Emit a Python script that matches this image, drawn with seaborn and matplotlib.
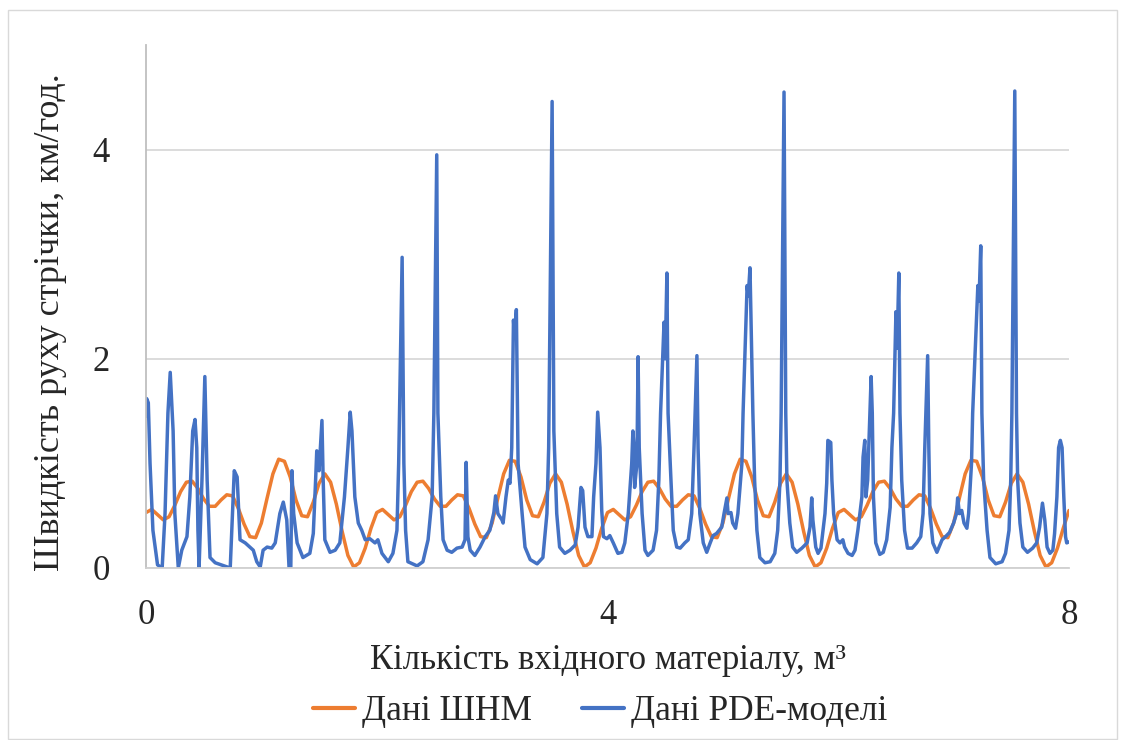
import numpy as np
import pandas as pd
import matplotlib
matplotlib.use("Agg")
import matplotlib.pyplot as plt
import seaborn as sns
from matplotlib.patches import Rectangle

# ---------------- data ----------------
# Neural-network (ШНМ) output, sampled every 0.05 m³ from 0 to 8
shnm_x = np.round(np.arange(161) * 0.05, 2)
shnm_y = [
    0.53, 0.56, 0.51, 0.46, 0.49, 0.60, 0.73, 0.82, 0.83, 0.76,
    0.66, 0.59, 0.59, 0.65, 0.70, 0.69, 0.57, 0.42, 0.30, 0.29,
    0.43, 0.67, 0.90, 1.04, 1.02, 0.87, 0.65, 0.50, 0.49, 0.63,
    0.81, 0.90, 0.82, 0.61, 0.35, 0.12, 0.01, 0.05, 0.19, 0.38,
    0.53, 0.56, 0.51, 0.46, 0.49, 0.60, 0.73, 0.82, 0.83, 0.76,
    0.66, 0.59, 0.59, 0.65, 0.70, 0.69, 0.57, 0.42, 0.30, 0.29,
    0.43, 0.67, 0.90, 1.03, 1.02, 0.87, 0.65, 0.50, 0.49, 0.63,
    0.81, 0.90, 0.82, 0.61, 0.35, 0.12, 0.01, 0.05, 0.19, 0.38,
    0.53, 0.56, 0.51, 0.46, 0.49, 0.60, 0.73, 0.82, 0.83, 0.76,
    0.66, 0.59, 0.59, 0.65, 0.70, 0.69, 0.57, 0.42, 0.30, 0.29,
    0.43, 0.67, 0.90, 1.04, 1.02, 0.87, 0.65, 0.50, 0.49, 0.63,
    0.81, 0.90, 0.82, 0.61, 0.35, 0.12, 0.01, 0.05, 0.19, 0.38,
    0.53, 0.56, 0.51, 0.46, 0.49, 0.60, 0.73, 0.82, 0.83, 0.76,
    0.66, 0.59, 0.59, 0.65, 0.70, 0.69, 0.57, 0.42, 0.30, 0.29,
    0.43, 0.67, 0.90, 1.03, 1.02, 0.87, 0.65, 0.50, 0.49, 0.63,
    0.81, 0.90, 0.82, 0.61, 0.35, 0.12, 0.01, 0.05, 0.19, 0.38,
    0.55,
]

# PDE model output
pde_x = [
    0.000, 0.005, 0.020, 0.035, 0.060, 0.100, 0.140, 0.165, 0.190, 0.210,
    0.235, 0.250, 0.280, 0.310, 0.355, 0.380, 0.405, 0.425, 0.440, 0.450,
    0.460, 0.485, 0.510, 0.530, 0.555, 0.600, 0.730, 0.765, 0.790, 0.815,
    0.860, 0.900, 0.930, 0.960, 0.990, 1.015, 1.050, 1.090, 1.120, 1.160,
    1.190, 1.220, 1.240, 1.255, 1.265, 1.280, 1.310, 1.360, 1.420, 1.450,
    1.470, 1.480, 1.500, 1.525, 1.535, 1.550, 1.595, 1.640, 1.680, 1.720,
    1.750, 1.770, 1.785, 1.810, 1.840, 1.870, 1.900, 1.940, 1.985, 2.010,
    2.045, 2.100, 2.140, 2.175, 2.190, 2.220, 2.235, 2.250, 2.270, 2.350,
    2.400, 2.445, 2.480, 2.495, 2.520, 2.530, 2.555, 2.575, 2.610, 2.650,
    2.695, 2.740, 2.765, 2.775, 2.790, 2.810, 2.850, 2.895, 2.940, 2.980,
    3.015, 3.030, 3.050, 3.085, 3.095, 3.120, 3.140, 3.155, 3.170, 3.185,
    3.195, 3.210, 3.225, 3.260, 3.285, 3.330, 3.390, 3.440, 3.475, 3.490,
    3.520, 3.535, 3.560, 3.585, 3.630, 3.675, 3.720, 3.745, 3.770, 3.785,
    3.805, 3.830, 3.865, 3.880, 3.900, 3.915, 3.935, 3.950, 3.965, 3.995,
    4.020, 4.050, 4.090, 4.125, 4.150, 4.180, 4.210, 4.220, 4.230, 4.235,
    4.255, 4.265, 4.275, 4.300, 4.325, 4.350, 4.395, 4.425, 4.445, 4.460,
    4.490, 4.500, 4.515, 4.525, 4.550, 4.570, 4.600, 4.630, 4.670, 4.700,
    4.730, 4.750, 4.775, 4.785, 4.800, 4.830, 4.860, 4.890, 4.915, 4.945,
    4.990, 5.010, 5.035, 5.045, 5.070, 5.085, 5.110, 5.130, 5.165, 5.175,
    5.210, 5.220, 5.235, 5.260, 5.275, 5.295, 5.320, 5.365, 5.410, 5.450,
    5.475, 5.495, 5.505, 5.530, 5.545, 5.555, 5.580, 5.605, 5.640, 5.685,
    5.730, 5.755, 5.770, 5.780, 5.805, 5.825, 5.850, 5.865, 5.885, 5.900,
    5.910, 5.935, 5.945, 5.960, 5.990, 6.015, 6.040, 6.055, 6.085, 6.120,
    6.145, 6.170, 6.205, 6.215, 6.230, 6.240, 6.255, 6.275, 6.285, 6.295,
    6.305, 6.325, 6.360, 6.390, 6.420, 6.450, 6.465, 6.480, 6.500, 6.510,
    6.525, 6.535, 6.550, 6.575, 6.600, 6.640, 6.680, 6.715, 6.735, 6.750,
    6.775, 6.785, 6.795, 6.820, 6.855, 6.900, 6.930, 6.965, 7.000, 7.025,
    7.035, 7.050, 7.070, 7.090, 7.115, 7.130, 7.155, 7.165, 7.210, 7.220,
    7.235, 7.245, 7.260, 7.290, 7.315, 7.365, 7.420, 7.450, 7.480, 7.495,
    7.505, 7.530, 7.545, 7.555, 7.575, 7.600, 7.640, 7.685, 7.720, 7.745,
    7.770, 7.790, 7.810, 7.835, 7.860, 7.875, 7.895, 7.910, 7.925, 7.940,
    7.955, 7.970, 7.980, 8.000,
]
pde_y = [
    1.45, 1.62, 1.58, 1.00, 0.36, 0.03, 0.00, 0.52, 1.48, 1.87,
    1.31, 0.52, 0.00, 0.17, 0.30, 0.68, 1.31, 1.42, 1.15, 0.36,
    0.00, 0.84, 1.83, 0.84, 0.10, 0.05, 0.00, 0.93, 0.87, 0.27,
    0.24, 0.20, 0.17, 0.06, 0.01, 0.17, 0.20, 0.19, 0.24, 0.52,
    0.63, 0.46, 0.00, 0.00, 0.93, 0.52, 0.24, 0.10, 0.14, 0.33,
    0.84, 1.12, 0.93, 1.41, 0.87, 0.27, 0.15, 0.17, 0.24, 0.68,
    1.15, 1.49, 1.31, 0.68, 0.43, 0.36, 0.27, 0.28, 0.24, 0.27,
    0.14, 0.06, 0.14, 0.36, 1.00, 2.97, 1.00, 0.36, 0.06, 0.02,
    0.06, 0.27, 0.68, 1.48, 3.95, 1.48, 0.68, 0.27, 0.17, 0.15,
    0.19, 0.20, 0.27, 1.01, 0.30, 0.17, 0.12, 0.20, 0.30, 0.36,
    0.53, 0.69, 0.52, 0.46, 0.43, 0.68, 0.84, 0.81, 1.15, 2.37,
    2.20, 2.47, 1.00, 0.52, 0.20, 0.08, 0.04, 0.10, 0.52, 1.15,
    4.46, 1.31, 0.52, 0.20, 0.14, 0.17, 0.22, 0.39, 0.77, 0.74,
    0.39, 0.30, 0.30, 0.68, 1.00, 1.49, 1.15, 0.55, 0.30, 0.28,
    0.31, 0.24, 0.14, 0.15, 0.24, 0.52, 1.00, 1.31, 1.15, 0.77,
    1.00, 2.02, 1.15, 0.52, 0.17, 0.12, 0.17, 0.36, 0.84, 1.48,
    2.35, 2.00, 2.82, 1.48, 0.84, 0.36, 0.20, 0.19, 0.24, 0.27,
    0.52, 1.15, 2.03, 1.15, 0.52, 0.24, 0.15, 0.24, 0.31, 0.33,
    0.39, 0.52, 0.67, 0.52, 0.53, 0.43, 0.38, 0.52, 1.00, 1.48,
    2.70, 2.60, 2.87, 1.48, 0.84, 0.36, 0.10, 0.05, 0.06, 0.14,
    0.36, 0.84, 1.48, 4.55, 1.48, 0.84, 0.43, 0.20, 0.15, 0.19,
    0.24, 0.39, 0.67, 0.46, 0.20, 0.14, 0.19, 0.33, 0.52, 0.81,
    1.22, 1.20, 0.84, 0.52, 0.27, 0.24, 0.27, 0.20, 0.14, 0.12,
    0.17, 0.36, 0.68, 1.06, 1.22, 0.68, 0.84, 1.48, 1.83, 1.48,
    0.68, 0.24, 0.13, 0.15, 0.27, 0.58, 1.15, 1.48, 2.45, 2.10,
    2.82, 1.48, 0.84, 0.36, 0.19, 0.19, 0.24, 0.30, 0.52, 1.15,
    2.03, 1.15, 0.52, 0.24, 0.15, 0.27, 0.30, 0.34, 0.43, 0.52,
    0.67, 0.52, 0.55, 0.43, 0.38, 0.52, 1.00, 1.48, 2.70, 2.55,
    3.08, 1.48, 0.84, 0.36, 0.10, 0.04, 0.06, 0.14, 0.36, 0.84,
    1.48, 4.56, 1.48, 0.84, 0.43, 0.20, 0.15, 0.19, 0.24, 0.39,
    0.62, 0.46, 0.20, 0.14, 0.17, 0.33, 0.68, 1.15, 1.22, 1.15,
    0.68, 0.30, 0.24, 0.25,
]

series_names = ["Дані ШНМ", "Дані PDE-моделі"]
series_colors = ["#ED7D31", "#4472C4"]
x_ticks = [0, 4, 8]
y_ticks = [0, 2, 4]
x_title = "Кількість вхідного матеріалу, м³"
y_title = "Швидкість руху стрічки, км/год."

# ---------------- styling ----------------
sns.set_theme(style="white")
plt.rcParams["font.family"] = ["Liberation Serif", "DejaVu Serif"]
FS_TICK = 25
FS_XLAB = 25
FS_YLAB = 26
FS_LEG = 25.5

df = pd.concat([
    pd.DataFrame({"x": shnm_x, "y": shnm_y, "series": series_names[0]}),
    pd.DataFrame({"x": pde_x, "y": pde_y, "series": series_names[1]}),
], ignore_index=True)

W, H = 1121, 740
fig = plt.figure(figsize=(W / 100, H / 100), dpi=100)
ax = fig.add_axes([146 / W, 1 - 568 / H, (1069 - 146) / W, (568 - 45) / H])

sns.lineplot(
    data=df, x="x", y="y", hue="series", hue_order=series_names,
    palette=dict(zip(series_names, series_colors)),
    estimator=None, sort=False, ax=ax,
)
for ln in ax.get_lines():
    ln.set_linewidth(2.5)
    ln.set_solid_joinstyle("round")
    ln.set_solid_capstyle("round")

ax.set_xlim(0, 8)
ax.set_ylim(0, 5)
ax.set_xticks(x_ticks)
ax.set_yticks(y_ticks)
ax.set_xticklabels([str(t) for t in x_ticks], fontsize=FS_TICK)
ax.set_yticklabels([str(t) for t in y_ticks], fontsize=FS_TICK)
ax.tick_params(axis="both", length=0)
ax.tick_params(axis="x", pad=22)
ax.tick_params(axis="y", pad=26)

ax.grid(axis="y", color="#d9d9d9", linewidth=1.3)
ax.grid(axis="x", visible=False)
ax.set_axisbelow(True)
for side in ["top", "right"]:
    ax.spines[side].set_visible(False)
ax.spines["left"].set_color("#bfbfbf")
ax.spines["bottom"].set_color("#d0d0d0")
ax.spines["left"].set_linewidth(1.3)
ax.spines["bottom"].set_linewidth(1.3)

ax.set_xlabel(x_title, fontsize=FS_XLAB)
ax.set_ylabel(y_title, fontsize=FS_YLAB)
ax.xaxis.set_label_coords(0.5, -0.176)
ax.yaxis.set_label_coords(-0.104, 0.47)
ax.xaxis.label.set_va("center")
ax.yaxis.label.set_va("center")

handles, labels = ax.get_legend_handles_labels()
ax.get_legend().remove()
leg = fig.legend(
    handles, labels, loc="center", bbox_to_anchor=(600 / W, 1 - 712 / H),
    ncol=2, frameon=False, fontsize=FS_LEG, handlelength=1.2,
    handletextpad=0.2, columnspacing=1.4,
)
for h in leg.get_lines():
    h.set_linewidth(3.0)

# outer chart border
fig.patches.append(Rectangle(
    (8 / W, 0.002), (1117 - 8) / W, 1 - 10 / H - 0.002,
    transform=fig.transFigure, fill=False, edgecolor="#d9d9d9", linewidth=1.0,
))

fig.savefig("out.png", dpi=100)
